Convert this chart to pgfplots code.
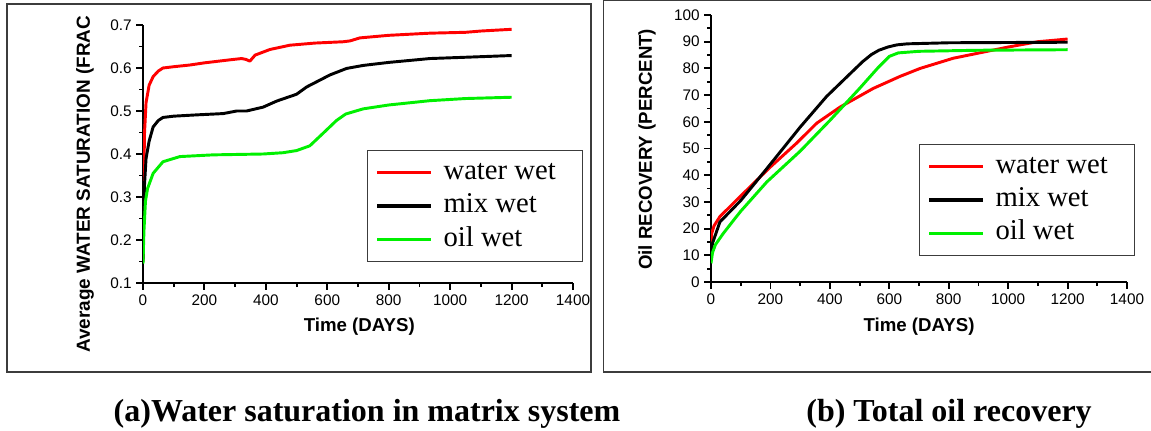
\documentclass[border=0pt]{standalone}
\usepackage{fontspec}
\setmainfont{Liberation Serif}
\newfontfamily\arial{Liberation Sans}
\usepackage{pgfplots}
\pgfplotsset{compat=1.18}
\definecolor{wred}{RGB}{255,0,0}
\definecolor{ogreen}{RGB}{0,240,0}
\definecolor{framec}{RGB}{60,60,60}

\pgfplotsset{panel/.style={
  scale only axis, axis lines*=left,
  axis line style={line width=1.4pt},
  every tick/.style={line width=1.4pt, black},
  tick align=outside, major tick length=5pt, minor tick length=3pt,
  minor tick num=1,
  xmin=0, xmax=1400, xtick={0,200,...,1400},
  ticklabel style={font=\arial\fontsize{11.5}{13}\selectfont},
  /pgf/number format/assume math mode=true,
  /pgf/number format/1000 sep={},
  xlabel={Time (DAYS)},
  xlabel style={font=\arial\bfseries\fontsize{14}{16}\selectfont, anchor=center},
  every axis plot/.append style={line width=2.2pt, line join=round, no markers},
  legend cell align=left,
  legend image code/.code={\draw[##1, line width=2.4pt] (0pt,0pt) -- (40.5pt,0pt);},
  legend style={anchor=north west, draw=framec, line width=1pt, fill=white,
    font=\fontsize{21.5}{24}\selectfont, inner xsep=6pt, inner ysep=6.5pt,
    row sep=5pt, column sep=8pt,
    nodes={inner sep=0pt, text height=15pt, text depth=5pt, anchor=west}},
}}

\begin{document}
\begin{tikzpicture}
\useasboundingbox (0pt,0pt) rectangle (863.25pt,-323.25pt);

% ---------- left panel ----------
\begin{scope}
\clip (5.25pt,-3pt) rectangle (443.25pt,-279pt);
\begin{axis}[panel,
  at={(107.25pt,-212.25pt)}, anchor=south west,
  width=322.5pt, height=193.5pt,
  ymin=0.1, ymax=0.7, ytick={0.1,0.2,...,0.7},
  yticklabel style={/pgf/number format/.cd, fixed, fixed zerofill, precision=1},
  xlabel style={at={(axis description cs:0.503,-0.1705)}},
  legend style={at={(axis description cs:0.521,0.5155)}},
  legend entries={\makebox[98pt][l]{water wet},\makebox[98pt][l]{mix wet},\makebox[98pt][l]{oil wet}},
]
\addplot[wred] coordinates {(0,0.15) (2,0.32) (5,0.45) (10,0.52) (20,0.56) (33,0.58) (50,0.593) (65,0.600) (100,0.603) (153,0.607) (200,0.612) (283,0.619) (321,0.622) (335,0.620) (348,0.616) (365,0.630) (413,0.643) (478,0.653) (560,0.658) (651,0.661) (674,0.663) (706,0.670) (800,0.676) (934,0.681) (1050,0.683) (1100,0.686) (1200,0.690)};
\addplot[black] coordinates {(0,0.15) (2,0.26) (5,0.33) (10,0.39) (20,0.43) (33,0.463) (50,0.478) (65,0.485) (100,0.488) (175,0.491) (261,0.494) (305,0.500) (337,0.500) (391,0.509) (435,0.523) (500,0.539) (533,0.556) (609,0.584) (663,0.599) (717,0.606) (800,0.613) (934,0.622) (1050,0.625) (1200,0.629)};
\addplot[ogreen] coordinates {(0,0.145) (3,0.22) (8,0.29) (15,0.32) (33,0.355) (65,0.382) (120,0.394) (228,0.398) (391,0.400) (456,0.403) (500,0.408) (543,0.419) (586,0.448) (630,0.478) (660,0.493) (717,0.505) (800,0.514) (934,0.524) (1050,0.529) (1200,0.532)};
\end{axis}
\node[rotate=90, anchor=west, inner sep=0pt, font=\arial\bfseries\fontsize{14.2}{16}\selectfont] at (63.75pt,-264.75pt) {Average WATER SATURATION (FRAC};
\end{scope}
\draw[framec, line width=1.2pt] (5.25pt,-3pt) rectangle (443.25pt,-279pt);

% ---------- right panel ----------
\begin{axis}[panel,
  at={(533.25pt,-211.5pt)}, anchor=south west,
  width=312pt, height=200.25pt,
  ymin=0, ymax=100, ytick={0,10,...,100},
  xlabel style={at={(axis description cs:0.5,-0.1685)}},
  legend style={at={(axis description cs:0.5,0.5169)}},
  legend entries={\makebox[98pt][l]{water wet},\makebox[98pt][l]{mix wet},\makebox[98pt][l]{oil wet}},
]
\addplot[wred] coordinates {(0,12) (2,18) (10,21) (30,24.5) (98,32) (199,43) (288,52) (356,59.5) (434,65.5) (546,72.5) (636,77) (704,80) (815,83.8) (1000,88) (1100,90) (1200,91)};
\addplot[black] coordinates {(0,11) (5,14.5) (30,22.5) (100,30.5) (188,42.5) (300,58) (389,69.5) (468,78) (510,82.5) (540,85.2) (565,86.8) (595,88) (625,88.8) (660,89.2) (800,89.6) (1000,89.7) (1200,89.8)};
\addplot[ogreen] coordinates {(0,7) (5,11) (15,14) (40,18) (75,23) (100,26.5) (188,37.5) (300,49) (400,60.5) (500,72.5) (560,80) (600,84.5) (630,85.8) (700,86.4) (900,86.8) (1200,87)};
\end{axis}
\node[rotate=90, anchor=west, inner sep=0pt, font=\arial\bfseries\fontsize{14}{16}\selectfont] at (485.25pt,-202.5pt) {Oil RECOVERY (PERCENT)};
\draw[framec, line width=1.2pt] (452.6pt,-0.4pt) rectangle (870pt,-279pt);

% ---------- captions ----------
\node[anchor=base, inner sep=0pt, font=\bfseries\fontsize{24}{28}\selectfont] at (275.25pt,-315.75pt) {(a)Water saturation in matrix system};
\node[anchor=base, inner sep=0pt, font=\bfseries\fontsize{24}{28}\selectfont] at (711.75pt,-315.75pt) {(b) Total oil recovery};
\end{tikzpicture}
\end{document}
